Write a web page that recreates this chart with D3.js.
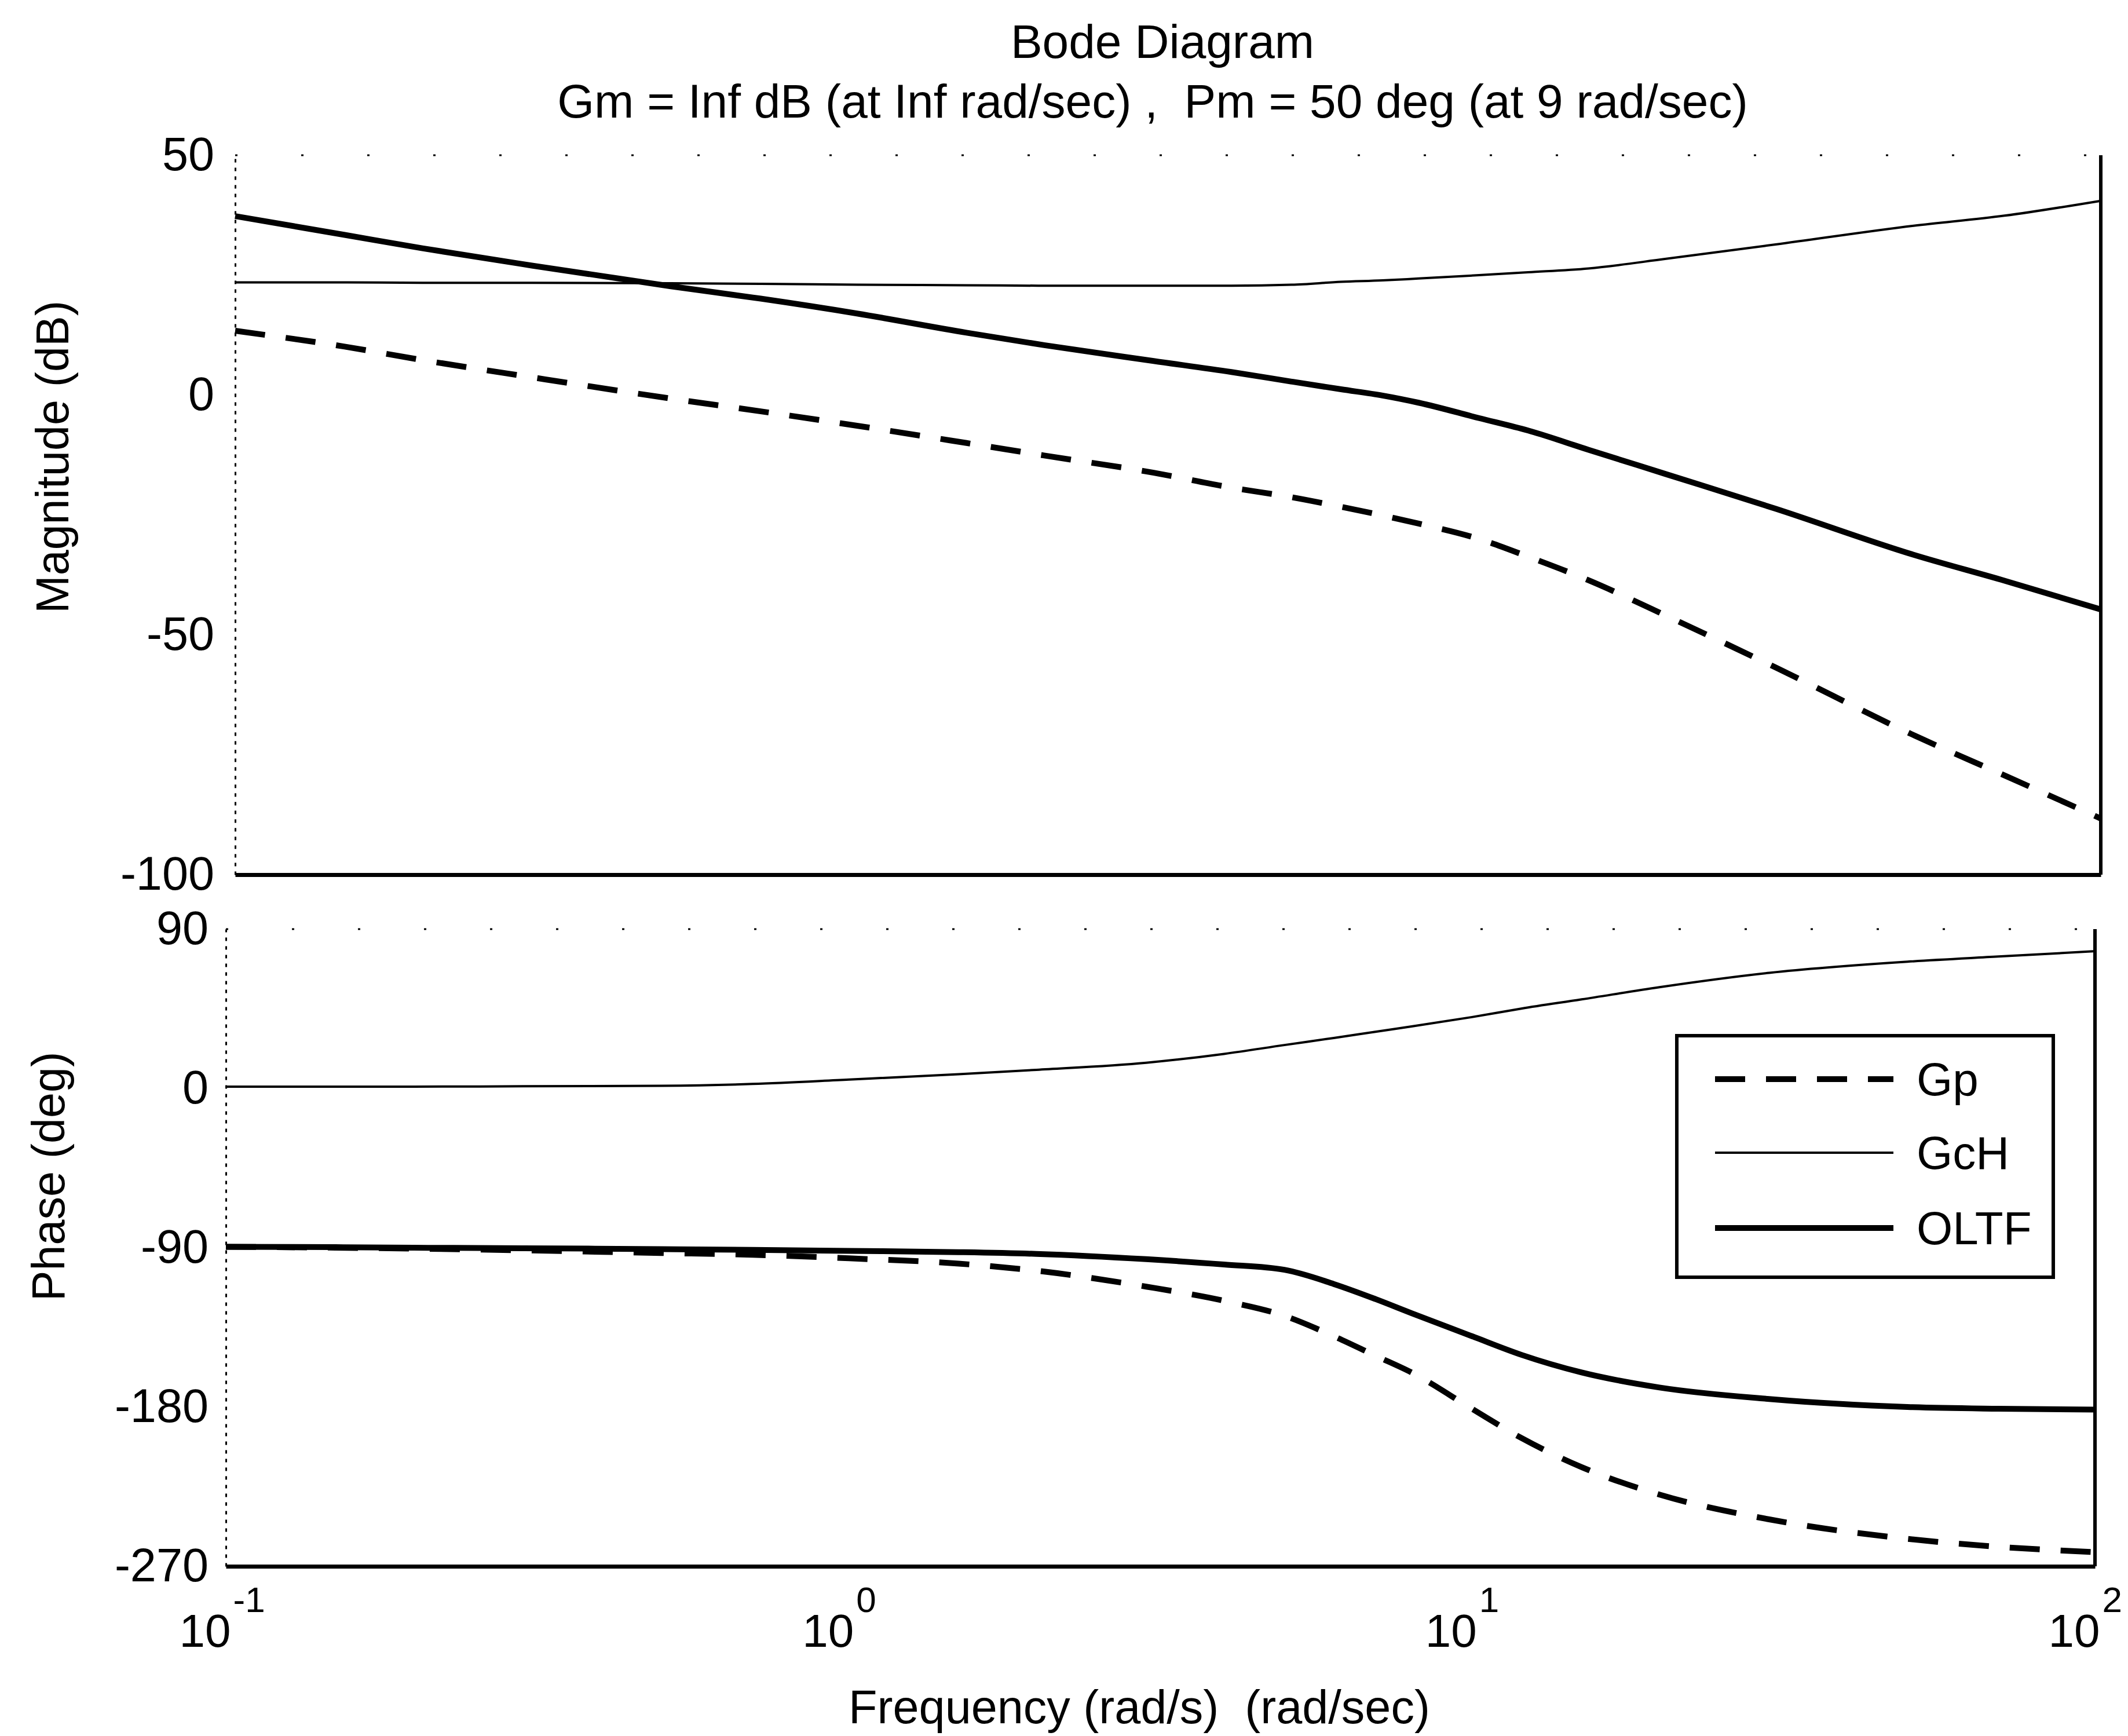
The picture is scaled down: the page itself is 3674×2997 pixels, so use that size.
<!DOCTYPE html>
<html>
<head>
<meta charset="utf-8">
<script src="https://cdn.jsdelivr.net/npm/d3@7"></script>
<style>
  html, body { margin: 0; padding: 0; background: #fff; }
  svg { display: block; font-family: "Liberation Sans", Arial, Helvetica, sans-serif; }
  text { fill: #000; }
</style>
</head>
<body>
<svg id="chart" width="3674" height="2997"></svg>
<script>
// ---------- data ----------
const freq = [0.1, 0.15, 0.2, 0.3, 0.5, 0.7, 1, 1.5, 2, 3, 4, 5, 6, 7, 8, 10, 12, 15, 20, 30, 50, 70, 100];

const magGp   = [13.4, 10.1, 7.3, 3.7, -0.7, -3.4, -6.4, -10.0, -12.6, -16.2, -19.3, -21.3, -23.3, -25.1, -26.8, -30.0, -33.7, -38.6, -46.0, -56.8, -70.9, -79.3, -88.3];
const magGcH  = [23.5, 23.5, 23.4, 23.4, 23.3, 23.2, 23.0, 22.9, 22.8, 22.8, 22.8, 23.0, 23.6, 23.9, 24.3, 25.0, 25.6, 26.4, 28.4, 31.4, 35.3, 37.4, 40.5];
const magOLTF = [37.3, 33.4, 30.6, 27.0, 22.7, 20.1, 17.0, 13.0, 10.4, 7.1, 4.8, 2.8, 1.2, -0.1, -1.6, -4.8, -7.4, -11.4, -16.5, -23.7, -33.3, -38.7, -44.7];

const phGp   = [-89.5, -90, -90.5, -91.5, -93, -94, -96, -99, -103, -112, -120, -128.5, -140, -151, -160.5, -181, -197.5, -214, -229.5, -243.5, -254.5, -259, -262];
const phGcH  = [1, 1, 1, 1.2, 1.5, 2.5, 5, 8, 10.5, 14.5, 19.5, 24.5, 28.5, 32, 35, 40.3, 45.1, 50.3, 57.2, 65.3, 71.6, 74.5, 77.5];
const phOLTF = [-89.5, -89.7, -90, -90.3, -90.8, -91.2, -91.8, -92.5, -93.5, -96.5, -99.5, -102.5, -110.5, -119, -127, -140, -150.5, -160.5, -169, -175.5, -180, -181, -181.5];

const seriesNames = ["Gp", "GcH", "OLTF"];
const magTicks = [50, 0, -50, -100];
const phaseTicks = [90, 0, -90, -180, -270];
const freqTicks = [0.1, 1, 10, 100];
const freqExponents = ["-1", "0", "1", "2"];

const titleText = "Bode Diagram";
const subtitleText = "Gm = Inf dB (at Inf rad/sec) ,  Pm = 50 deg (at 9 rad/sec)";
const xLabel = "Frequency (rad/s)  (rad/sec)";
const magLabel = "Magnitude (dB)";
const phaseLabel = "Phase (deg)";

// ---------- styles ----------
const styles = {
  Gp:   { width: 10, dash: "52,36" },
  GcH:  { width: 4,  dash: null },
  OLTF: { width: 10, dash: null }
};
const FS = 81;

// ---------- scales ----------
const svg = d3.select("#chart");
const xMag = d3.scaleLog().domain([0.1, 100]).range([406, 3627]);
const xPh  = d3.scaleLog().domain([0.1, 100]).range([390, 3617]);
const yMag = d3.scaleLinear().domain([-100, 50]).range([1510, 268]);
const yPh  = d3.scaleLinear().domain([-270, 90]).range([2704, 1604]);

function panel(x, y, ticks, padding) {
  const g = svg.append("g");
  const [x0, x1] = x.range();
  const [yb, yt] = y.range();
  g.append("line").attr("x1", x0).attr("x2", x1).attr("y1", yt).attr("y2", yt)
    .attr("stroke", "#000").attr("stroke-width", 3).attr("stroke-dasharray", "4,110");
  g.append("line").attr("x1", x1).attr("x2", x1).attr("y1", yt).attr("y2", yb)
    .attr("stroke", "#000").attr("stroke-width", 6);
  const ax = g.append("g").attr("transform", `translate(${x0},0)`)
    .call(d3.axisLeft(y).tickValues(ticks).tickSize(0).tickSizeOuter(0).tickPadding(padding)
      .tickFormat(d => String(d)));
  ax.select(".domain").attr("stroke", "#000").attr("stroke-width", 3).attr("stroke-dasharray", "6,9");
  ax.selectAll("text").attr("font-size", FS).attr("font-family", "Liberation Sans, Arial, sans-serif").attr("fill", "#000");
  const bx = g.append("g").attr("transform", `translate(0,${yb})`)
    .call(d3.axisBottom(x).tickValues(freqTicks).tickSize(0).tickSizeOuter(0).tickFormat(() => ""));
  bx.select(".domain").attr("stroke", "#000").attr("stroke-width", 7);
  return { g, bx };
}

const magPanel = panel(xMag, yMag, magTicks, 36);
const phPanel = panel(xPh, yPh, phaseTicks, 30);

phPanel.bx.selectAll(".tick").each(function(d, i) {
  const t = d3.select(this);
  t.append("text").attr("x", 8).attr("y", 139).attr("text-anchor", "end")
    .attr("font-size", 80).attr("fill", "#000").text("10");
  t.append("text").attr("x", 12).attr("y", 79).attr("text-anchor", "start")
    .attr("font-size", 62).attr("fill", "#000").text(freqExponents[i]);
});

// ---------- curves ----------
function drawLines(x, y, arrays) {
  seriesNames.forEach((name, k) => {
    const vals = arrays[k];
    const line = d3.line().x((d, i) => x(freq[i])).y(d => y(d)).curve(d3.curveMonotoneX);
    const p = svg.append("path").datum(vals).attr("d", line)
      .attr("fill", "none").attr("stroke", "#000")
      .attr("stroke-width", styles[name].width)
      .attr("stroke-linejoin", "round");
    if (styles[name].dash) p.attr("stroke-dasharray", styles[name].dash);
  });
}
drawLines(xMag, yMag, [magGp, magGcH, magOLTF]);
drawLines(xPh, yPh, [phGp, phGcH, phOLTF]);

// ---------- texts ----------
svg.append("text").attr("x", 2007).attr("y", 100).attr("text-anchor", "middle")
  .attr("font-size", 82).text(titleText);
svg.append("text").attr("x", 1990).attr("y", 203).attr("text-anchor", "middle")
  .attr("font-size", 82).style("white-space", "pre").text(subtitleText);
svg.append("text").attr("x", 1967).attr("y", 2975).attr("text-anchor", "middle")
  .attr("font-size", 81).style("white-space", "pre").text(xLabel);
svg.append("text").attr("transform", "translate(118,789) rotate(-90)").attr("text-anchor", "middle")
  .attr("font-size", 79).text(magLabel);
svg.append("text").attr("transform", "translate(111,2031) rotate(-90)").attr("text-anchor", "middle")
  .attr("font-size", 79).text(phaseLabel);

// ---------- legend ----------
const leg = svg.append("g").attr("transform", "translate(2895,1788)");
leg.append("rect").attr("x", 0).attr("y", 0).attr("width", 650).attr("height", 417)
  .attr("fill", "#fff").attr("stroke", "#000").attr("stroke-width", 6);
const legY = [75, 202, 332];
seriesNames.forEach((name, k) => {
  const l = leg.append("line").attr("x1", 66).attr("x2", 374).attr("y1", legY[k]).attr("y2", legY[k])
    .attr("stroke", "#000").attr("stroke-width", styles[name].width);
  if (styles[name].dash) l.attr("stroke-dasharray", styles[name].dash);
  leg.append("text").attr("x", 414).attr("y", legY[k] + 28).attr("font-size", 80).text(name);
});
</script>
</body>
</html>
